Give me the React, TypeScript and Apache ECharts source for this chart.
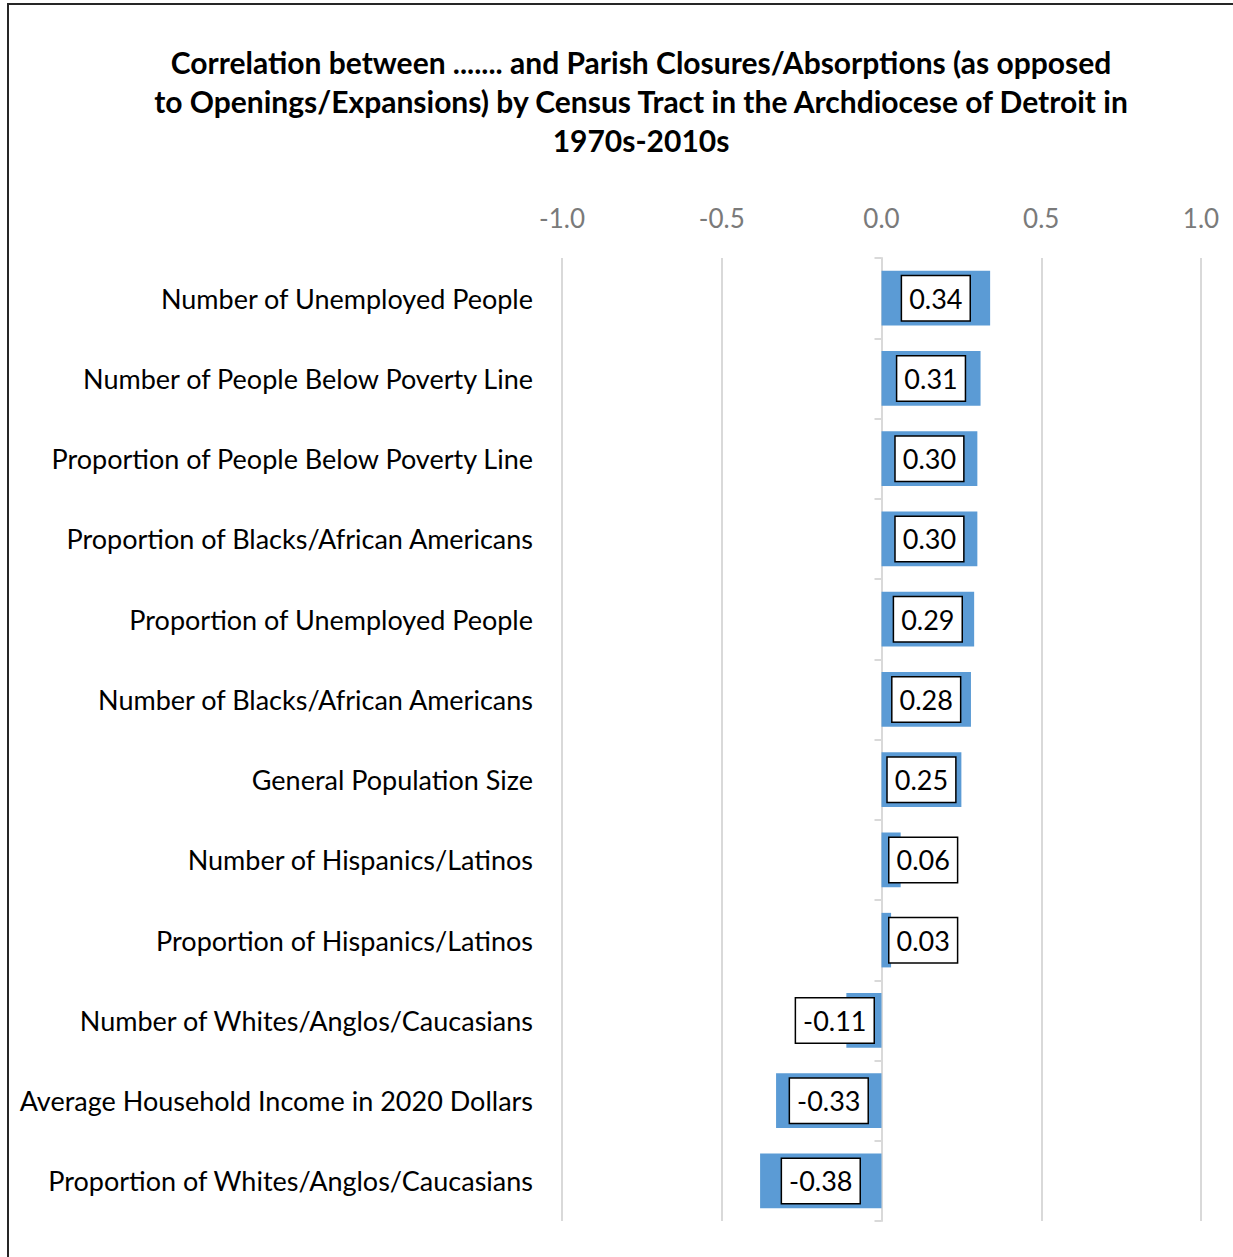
import React, { useEffect, useRef } from "react";
import * as echarts from "echarts";

const titleLines = [
  "Correlation between ....... and Parish Closures/Absorptions (as opposed",
  "to Openings/Expansions) by Census Tract in the Archdiocese of Detroit in",
  "1970s-2010s",
];

const categories = [
  "Number of Unemployed People",
  "Number of People Below Poverty Line",
  "Proportion of People Below Poverty Line",
  "Proportion of Blacks/African Americans",
  "Proportion of Unemployed People",
  "Number of Blacks/African Americans",
  "General Population Size",
  "Number of Hispanics/Latinos",
  "Proportion of Hispanics/Latinos",
  "Number of Whites/Anglos/Caucasians",
  "Average Household Income in 2020 Dollars",
  "Proportion of Whites/Anglos/Caucasians",
];

const correlations = [0.34, 0.31, 0.3, 0.3, 0.29, 0.28, 0.25, 0.06, 0.03, -0.11, -0.33, -0.38];

const axisMin = -1;
const axisMax = 1;
const axisInterval = 0.5;

const FONT = "Lato";

export default function App() {
  const ref = useRef<HTMLDivElement>(null);

  useEffect(() => {
    if (!ref.current) return;
    const chart = echarts.init(ref.current, undefined, { renderer: "svg" });

    const data = correlations.map((v) => {
      const small = Math.abs(v) < 0.2;
      const label: any = small
        ? { position: v >= 0 ? "insideLeft" : "insideRight", distance: 8 }
        : { position: "inside" };
      return { value: v, label };
    });

    chart.setOption({
      animation: false,
      backgroundColor: "#ffffff",
      textStyle: { fontFamily: FONT },
      grid: { left: 562, right: 32, top: 258, bottom: 36, containLabel: false },
      graphic: [
        {
          type: "rect",
          shape: { x: 8, y: 4, width: 1260, height: 1290 },
          style: { fill: "none", stroke: "#262626", lineWidth: 2 },
          silent: true,
        },
        ...titleLines.map((t, i) => ({
          type: "text",
          x: 641,
          y: 62 + i * 39,
          style: {
            text: t,
            fontFamily: FONT,
            fontSize: 30,
            fontWeight: "bold",
            fill: "#000000",
            align: "center",
            verticalAlign: "middle",
          },
        })),
      ],
      xAxis: {
        type: "value",
        position: "top",
        min: axisMin,
        max: axisMax,
        interval: axisInterval,
        axisLine: { show: false },
        axisTick: { show: false },
        axisLabel: {
          formatter: (v: number) => v.toFixed(1),
          color: "#7a7a7a",
          fontSize: 26,
          fontFamily: FONT,
          margin: 27,
        },
        splitLine: { show: true, lineStyle: { color: "#d9d9d9", width: 2 } },
      },
      yAxis: [
        {
          type: "category",
          data: categories,
          inverse: true,
          position: "left",
          axisLine: { show: false, onZero: false },
          axisTick: { show: false },
          axisLabel: {
            color: "#000000",
            fontSize: 27,
            fontFamily: FONT,
            margin: 29,
            padding: [0, 0, 5, 0],
          },
        },
        {
          type: "category",
          data: categories,
          inverse: true,
          position: "left",
          axisLine: { show: true, onZero: true, lineStyle: { color: "#d9d9d9", width: 2 } },
          axisTick: { show: true, length: 7, lineStyle: { color: "#d9d9d9", width: 2 } },
          axisLabel: { show: false },
        },
      ],
      series: [
        {
          type: "bar",
          yAxisIndex: 0,
          data,
          barCategoryGap: "32%",
          itemStyle: { color: "#5B9BD5" },
          label: {
            show: true,
            formatter: (p: any) => p.value.toFixed(2),
            color: "#000000",
            fontSize: 27,
            fontFamily: FONT,
            backgroundColor: "#ffffff",
            borderColor: "#000000",
            borderWidth: 1.5,
            padding: [7, 7, 7, 7],
            lineHeight: 30,
          },
        },
      ],
    });

    return () => chart.dispose();
  }, []);

  return (
    <div
      ref={ref}
      style={{ position: "fixed", left: 0, top: 0, width: 1233, height: 1257 }}
    />
  );
}
